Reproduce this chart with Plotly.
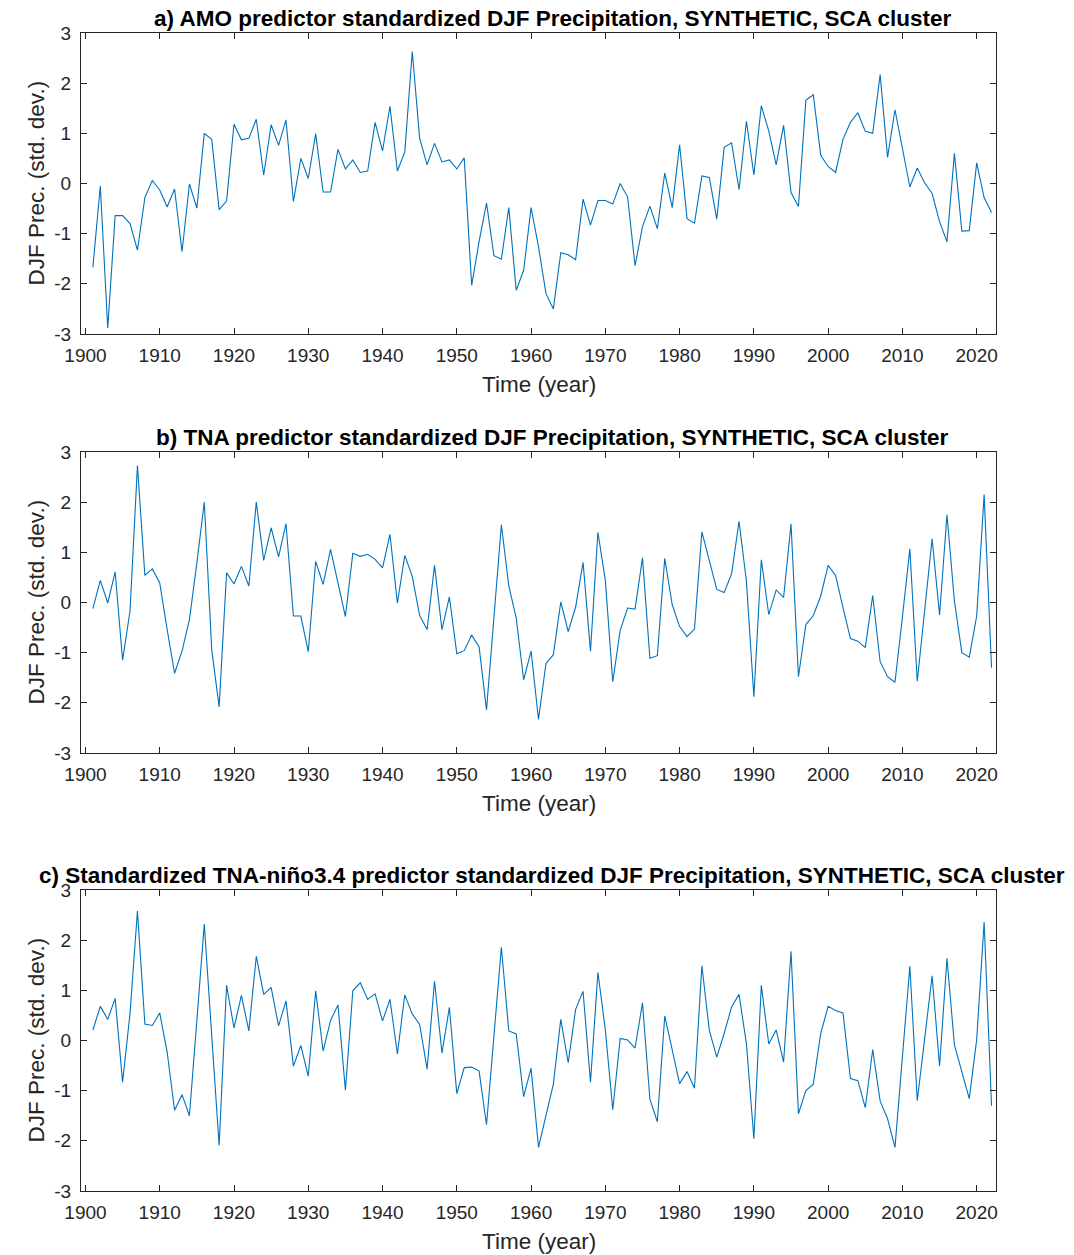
import plotly.graph_objects as go

years = list(range(1901, 2023))

amo = [-1.67, -0.05, -2.88, -0.64, -0.64, -0.80, -1.33, -0.28, 0.06, -0.13,
       -0.47, -0.11, -1.36, -0.01, -0.49, 1.00, 0.88, -0.52, -0.35, 1.18,
       0.87, 0.90, 1.28, 0.17, 1.17, 0.76, 1.27, -0.36, 0.50, 0.10,
       0.99, -0.17, -0.17, 0.68, 0.29, 0.47, 0.22, 0.25, 1.22, 0.65,
       1.54, 0.25, 0.63, 2.63, 0.90, 0.37, 0.80, 0.43, 0.47, 0.29,
       0.51, -2.03, -1.16, -0.39, -1.44, -1.51, -0.48, -2.13, -1.73, -0.48,
       -1.26, -2.19, -2.50, -1.38, -1.42, -1.52, -0.31, -0.83, -0.34, -0.34,
       -0.41, 0.00, -0.27, -1.64, -0.86, -0.45, -0.90, 0.21, -0.48, 0.77,
       -0.70, -0.79, 0.15, 0.12, -0.71, 0.72, 0.81, -0.12, 1.24, 0.17,
       1.55, 1.05, 0.37, 1.16, -0.18, -0.46, 1.66, 1.77, 0.56, 0.34,
       0.22, 0.88, 1.22, 1.41, 1.04, 1.00, 2.17, 0.52, 1.47, 0.70,
       -0.07, 0.31, 0.01, -0.20, -0.76, -1.16, 0.60, -0.95, -0.94, 0.41,
       -0.28, -0.58]

tna = [-0.12, 0.44, -0.01, 0.61, -1.15, -0.17, 2.73, 0.54, 0.67, 0.39,
       -0.54, -1.41, -0.97, -0.34, 0.79, 2.00, -0.94, -2.08, 0.59, 0.37,
       0.72, 0.33, 2.00, 0.84, 1.49, 0.91, 1.57, -0.27, -0.27, -0.98,
       0.82, 0.36, 1.06, 0.42, -0.28, 0.98, 0.92, 0.96, 0.86, 0.69,
       1.36, -0.01, 0.94, 0.52, -0.26, -0.54, 0.74, -0.54, 0.11, -1.02,
       -0.96, -0.65, -0.88, -2.14, -0.30, 1.55, 0.33, -0.31, -1.54, -0.97,
       -2.33, -1.22, -1.04, 0.01, -0.58, -0.09, 0.80, -0.97, 1.40, 0.44,
       -1.58, -0.55, -0.11, -0.13, 0.89, -1.11, -1.06, 0.88, -0.04, -0.48,
       -0.68, -0.53, 1.41, 0.82, 0.26, 0.20, 0.57, 1.62, 0.42, -1.88,
       0.85, -0.24, 0.25, 0.10, 1.57, -1.48, -0.44, -0.26, 0.13, 0.74,
       0.54, -0.10, -0.72, -0.77, -0.90, 0.14, -1.18, -1.48, -1.59, -0.29,
       1.07, -1.57, -0.10, 1.27, -0.25, 1.75, 0.03, -1.00, -1.09, -0.27,
       2.15, -1.30]

tna_nino = [0.21, 0.68, 0.42, 0.84, -0.83, 0.54, 2.58, 0.33, 0.30, 0.55,
            -0.23, -1.39, -1.08, -1.50, 0.40, 2.32, 0.10, -2.09, 1.10, 0.25,
            0.90, 0.19, 1.68, 0.92, 1.06, 0.29, 0.79, -0.51, -0.10, -0.71,
            0.99, -0.21, 0.40, 0.71, -0.99, 0.99, 1.15, 0.82, 0.93, 0.39,
            0.82, -0.27, 0.91, 0.53, 0.32, -0.57, 1.18, -0.25, 0.66, -1.06,
            -0.54, -0.53, -0.61, -1.68, 0.09, 1.86, 0.19, 0.13, -1.12, -0.55,
            -2.13, -1.50, -0.87, 0.42, -0.44, 0.62, 0.98, -0.83, 1.36, 0.21,
            -1.38, 0.04, 0.01, -0.15, 0.75, -1.17, -1.62, 0.49, -0.19, -0.86,
            -0.62, -0.95, 1.49, 0.20, -0.33, 0.14, 0.67, 0.92, -0.07, -1.96,
            1.10, -0.07, 0.21, -0.43, 1.78, -1.46, -1.00, -0.87, 0.14, 0.68,
            0.60, 0.55, -0.76, -0.80, -1.34, -0.18, -1.21, -1.56, -2.13, -0.33,
            1.48, -1.20, 0.10, 1.29, -0.51, 1.64, -0.09, -0.62, -1.16, 0.02,
            2.36, -1.30]

titles = [
    "a) AMO predictor standardized DJF Precipitation, SYNTHETIC, SCA cluster",
    "b) TNA predictor standardized DJF Precipitation, SYNTHETIC, SCA cluster",
    "c) Standardized TNA-niño3.4 predictor standardized DJF Precipitation, SYNTHETIC, SCA cluster",
]
series = [amo, tna, tna_nino]
xticks = list(range(1900, 2021, 10))
yticks = [-3, -2, -1, 0, 1, 2, 3]
ytick_text = ["-3", "-2", "-1", "0", "1", "2", "3"]

W, H = 1074, 1255
boxes = [(33, 334), (452, 753), (890, 1191)]
xl, xr = 81, 996

FONT = "Liberation Sans, Arial, Helvetica, sans-serif"
AXC = "#262626"
LINE = "#0072BD"

fig = go.Figure()
layout = dict(
    width=W, height=H,
    margin=dict(l=0, r=0, t=0, b=0),
    paper_bgcolor="white", plot_bgcolor="white",
    showlegend=False,
    font=dict(family=FONT, color=AXC),
)
annotations = []
for i, (vals, ttl, (top, bot)) in enumerate(zip(series, titles, boxes)):
    n = "" if i == 0 else str(i + 1)
    fig.add_trace(go.Scatter(x=years, y=vals, mode="lines",
                             line=dict(color=LINE, width=1.1),
                             xaxis="x" + n, yaxis="y" + n, hoverinfo="skip"))
    ydom = [1 - bot / H, 1 - top / H]
    layout["xaxis" + n] = dict(
        domain=[xl / W, xr / W], range=[1899.4, 2022.6],
        tickvals=xticks, ticks="inside", ticklen=6, tickcolor=AXC,
        showline=True, linecolor=AXC, linewidth=1, mirror="ticks",
        showgrid=False, zeroline=False, anchor="y" + n,
        tickfont=dict(size=19, family=FONT, color=AXC),
        ticklabelstandoff=4, automargin=False,
    )
    layout["yaxis" + n] = dict(
        domain=ydom, range=[-3, 3],
        tickvals=yticks, ticktext=ytick_text, ticks="inside", ticklen=6, tickcolor=AXC,
        showline=True, linecolor=AXC, linewidth=1, mirror="ticks",
        showgrid=False, zeroline=False, anchor="x" + n,
        tickfont=dict(size=19, family=FONT, color=AXC),
        ticklabelstandoff=5, automargin=False,
    )
    annotations.append(dict(text="<b>" + ttl + "</b>", x=552 / W, y=1 - top / H,
                            xref="paper", yref="paper", xanchor="center", yanchor="bottom",
                            showarrow=False, font=dict(size=22.5, family=FONT, color="black")))
    annotations.append(dict(text="Time (year)", x=539 / W, y=1 - (bot + 50) / H,
                            xref="paper", yref="paper", xanchor="center", yanchor="middle",
                            showarrow=False, font=dict(size=22.5, family=FONT, color=AXC)))
    annotations.append(dict(text="DJF Prec. (std. dev.)", x=36 / W, y=1 - (top + bot) / 2 / H,
                            xref="paper", yref="paper", xanchor="center", yanchor="middle",
                            textangle=-90, showarrow=False,
                            font=dict(size=22.5, family=FONT, color=AXC)))
layout["annotations"] = annotations
fig.update_layout(**layout)
fig.write_html("out.html", config={"displayModeBar": False},
               post_script="document.body.style.margin='0';document.body.style.overflow='hidden';")
